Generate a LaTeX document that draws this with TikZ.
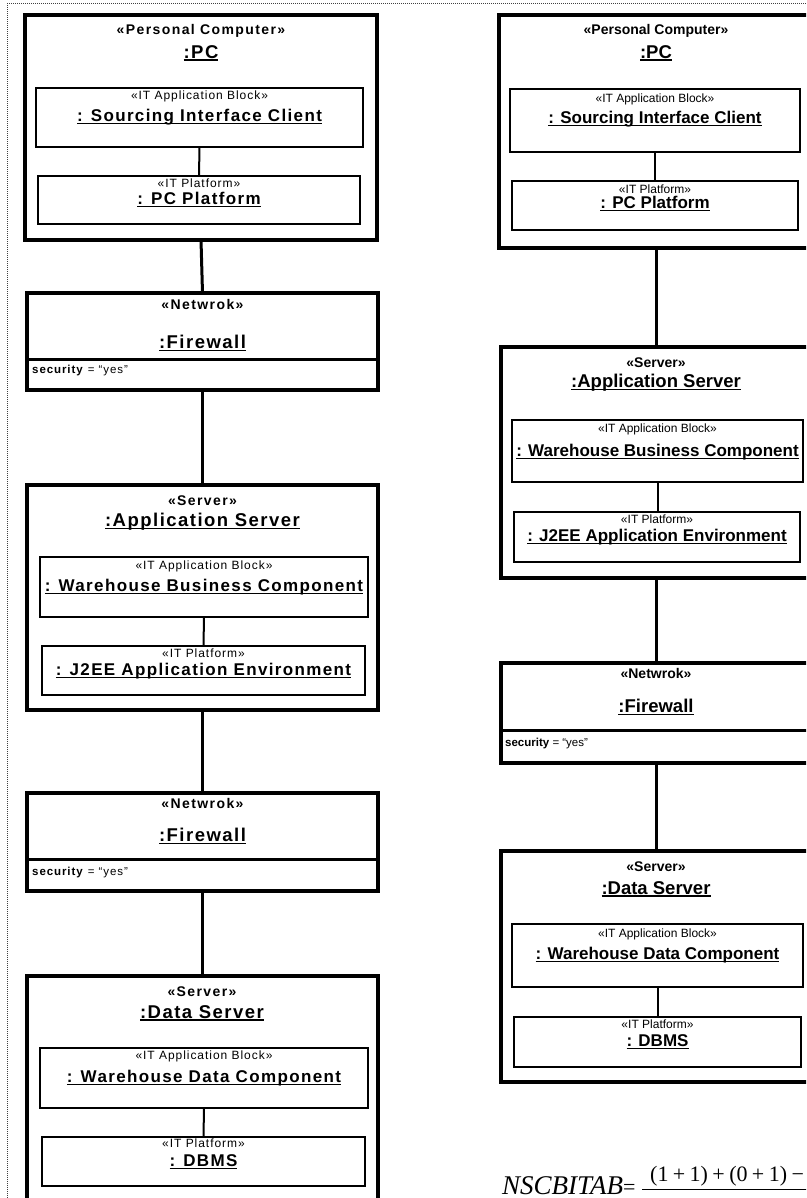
\documentclass[tikz,border=0pt]{standalone}
\usepackage{fontspec}
\setmainfont{Liberation Sans}
\newfontfamily\spacedsans[LetterSpace=8]{Liberation Sans}
\newfontfamily\widesans[LetterSpace=10]{Liberation Sans}
\newfontfamily\timesfont{Liberation Serif}
% underline set at a fixed depth, crossing descenders
\newcommand\undl[1]{\setbox0=\hbox{#1}\rlap{\rule[-2.4pt]{\wd0}{1.2pt}}\box0}
\newcommand\pls{\hspace{0.2em}+\hspace{0.2em}}
\newcommand\colfam{}
\newcommand\stfam{}
\tikzset{
  outerbox/.style={draw, line width=3.2pt, anchor=north west, inner sep=0pt, outer sep=0pt},
  innerbox/.style={draw, line width=2.2pt, anchor=north west, inner sep=0pt, outer sep=0pt},
  link/.style={line width=3pt},
  sublink/.style={line width=2pt},
  divider/.style={line width=3pt},
  nodest/.style={font=\stfam\fontsize{14}{14}\selectfont\bfseries, inner sep=0pt},
  nodename/.style={font=\colfam\fontsize{18.5}{19}\selectfont\bfseries, inner sep=0pt},
  blockst/.style={font=\colfam\fontsize{12}{12}\selectfont, inner sep=0pt},
  blockname/.style={font=\colfam\fontsize{17}{17}\selectfont\bfseries, inner sep=0pt},
  attr/.style={font=\colfam\fontsize{11.5}{12}\selectfont, inner sep=0pt, anchor=west},
  frame/.style={line width=1pt, black!75, dash pattern=on 1pt off 1pt},
}
\begin{document}
\begin{tikzpicture}[x=1pt, y=-1pt]
\useasboundingbox (0,0) rectangle (806,1198);
\clip (0,0) rectangle (806,1198);
\fill[white] (0,0) rectangle (806,1198);

% dotted page frame
\draw[frame] (7,1198) -- (7,4) -- (806,4);

% ---------------- left column (letter-spaced) ----------------
\begin{scope}
\renewcommand\colfam{\spacedsans}
\renewcommand\stfam{\widesans}
% PC
\node[outerbox, minimum width=352, minimum height=225] (pc) at (25,15) {};
\node[nodest] (pc-st) at (201,31) {«Personal Computer»};
\node[nodename] (pc-nm) at (201,53) {\undl{:PC}};
\node[innerbox, minimum width=327, minimum height=59] (sic) at (36,88) {};
\node[blockst] (sic-st) at (sic.center |- 0,96) {«IT Application Block»};
\node[blockname] (sic-nm) at (sic.center |- 0,117) {\undl{: Sourcing Interface Client}};
\node[innerbox, minimum width=322, minimum height=48] (pcp) at (38,176) {};
\node[blockst] (pcp-st) at (pcp.center |- 0,183) {«IT Platform»};
\node[blockname] (pcp-nm) at (pcp.center |- 0,200) {\undl{: PC Platform}};
\draw[sublink] (sic.south) -- (pcp.north);

% Firewall
\node[outerbox, minimum width=351, minimum height=97] (fwa) at (27,293) {};
\node[nodest] (fwa-st) at (fwa.center |- 0,304) {«Netwrok»};
\node[nodename] (fwa-nm) at (fwa.center |- 0,343) {\undl{:Firewall}};
\draw[divider] (fwa.west |- 0,359) -- (fwa.east |- 0,359);
\node[attr] (fwa-at) at (32,371) {\textbf{security} = “yes”};

% Application Server
\node[outerbox, minimum width=351, minimum height=225] (asa) at (27,485) {};
\node[nodest] (asa-st) at (asa.center |- 0,501) {«Server»};
\node[nodename] (asa-nm) at (asa.center |- 0,522) {\undl{:Application Server}};
\node[innerbox, minimum width=328, minimum height=60] (wbca) at (40,557) {};
\node[blockst] (wbca-st) at (wbca.center |- 0,566) {«IT Application Block»};
\node[blockname] (wbca-nm) at (wbca.center |- 0,587) {\undl{: Warehouse Business Component}};
\node[innerbox, minimum width=323, minimum height=49] (j2a) at (42,646) {};
\node[blockst] (j2a-st) at (j2a.center |- 0,653) {«IT Platform»};
\node[blockname] (j2a-nm) at (j2a.center |- 0,671) {\undl{: J2EE Application Environment}};
\draw[sublink] (wbca.south) -- (j2a.north);

% Firewall
\node[outerbox, minimum width=351, minimum height=98] (fwb) at (27,793) {};
\node[nodest] (fwb-st) at (fwb.center |- 0,803) {«Netwrok»};
\node[nodename] (fwb-nm) at (fwb.center |- 0,836) {\undl{:Firewall}};
\draw[divider] (fwb.west |- 0,859) -- (fwb.east |- 0,859);
\node[attr] (fwb-at) at (32,873) {\textbf{security} = “yes”};

% Data Server
\node[outerbox, minimum width=351, minimum height=240] (dsa) at (27,976) {};
\node[nodest] (dsa-st) at (202,992) {«Server»};
\node[nodename] (dsa-nm) at (202,1013) {\undl{:Data Server}};
\node[innerbox, minimum width=328, minimum height=60] (wdca) at (40,1048) {};
\node[blockst] (wdca-st) at (wdca.center |- 0,1056) {«IT Application Block»};
\node[blockname] (wdca-nm) at (wdca.center |- 0,1078) {\undl{: Warehouse Data Component}};
\node[innerbox, minimum width=323, minimum height=49] (dbma) at (42,1137) {};
\node[blockst] (dbma-st) at (dbma.center |- 0,1143) {«IT Platform»};
\node[blockname] (dbma-nm) at (dbma.center |- 0,1162) {\undl{: DBMS}};
\draw[sublink] (wdca.south) -- (dbma.north);

\draw[link] (pc.south) -- (fwa.north);
\draw[link] (fwa.south) -- (asa.north);
\draw[link] (asa.south) -- (fwb.north);
\draw[link] (fwb.south -| dsa.north) -- (dsa.north);
\end{scope}

% ---------------- right column ----------------
\begin{scope}
% PC
\node[outerbox, minimum width=314, minimum height=233] (pcr) at (499,15) {};
\node[nodest] (pcr-st) at (656,31) {«Personal Computer»};
\node[nodename] (pcr-nm) at (656,53) {\undl{:PC}};
\node[innerbox, minimum width=290, minimum height=63] (sicr) at (510,89) {};
\node[blockst] (sicr-st) at (sicr.center |- 0,99) {«IT Application Block»};
\node[blockname] (sicr-nm) at (sicr.center |- 0,119) {\undl{: Sourcing Interface Client}};
\node[innerbox, minimum width=286, minimum height=49] (pcpr) at (512,181) {};
\node[blockst] (pcpr-st) at (pcpr.center |- 0,189) {«IT Platform»};
\node[blockname] (pcpr-nm) at (pcpr.center |- 0,204) {\undl{: PC Platform}};
\draw[sublink] (sicr.south) -- (sicr.south |- pcpr.north);

% Application Server
\node[outerbox, minimum width=312, minimum height=231] (asr) at (501,347) {};
\node[nodest] (asr-st) at (656,363) {«Server»};
\node[nodename] (asr-nm) at (656,383) {\undl{:Application Server}};
\node[innerbox, minimum width=291, minimum height=62] (wbcr) at (512,420) {};
\node[blockst] (wbcr-st) at (wbcr.center |- 0,429) {«IT Application Block»};
\node[blockname] (wbcr-nm) at (wbcr.center |- 0,452) {\undl{: Warehouse Business Component}};
\node[innerbox, minimum width=286, minimum height=50] (j2r) at (514,512) {};
\node[blockst] (j2r-st) at (j2r.center |- 0,519) {«IT Platform»};
\node[blockname] (j2r-nm) at (j2r.center |- 0,537) {\undl{: J2EE Application Environment}};
\draw[sublink] (wbcr.south) -- (wbcr.south |- j2r.north);

% Firewall
\node[outerbox, minimum width=312, minimum height=100] (fwr) at (501,663) {};
\node[nodest] (fwr-st) at (656,673) {«Netwrok»};
\node[nodename] (fwr-nm) at (656,707) {\undl{:Firewall}};
\draw[divider] (fwr.west |- 0,730) -- (fwr.east |- 0,730);
\node[attr] (fwr-at) at (505,744) {\textbf{security} = “yes”};

% Data Server
\node[outerbox, minimum width=312, minimum height=231] (dsr) at (501,851) {};
\node[nodest] (dsr-st) at (656,867) {«Server»};
\node[nodename] (dsr-nm) at (656,889) {\undl{:Data Server}};
\node[innerbox, minimum width=291, minimum height=63] (wdcr) at (512,924) {};
\node[blockst] (wdcr-st) at (wdcr.center |- 0,934) {«IT Application Block»};
\node[blockname] (wdcr-nm) at (wdcr.center |- 0,955) {\undl{: Warehouse Data Component}};
\node[innerbox, minimum width=287, minimum height=50] (dbmr) at (514,1017) {};
\node[blockst] (dbmr-st) at (dbmr.center |- 0,1024) {«IT Platform»};
\node[blockname] (dbmr-nm) at (dbmr.center |- 0,1042) {\undl{: DBMS}};
\draw[sublink] (wdcr.south) -- (wdcr.south |- dbmr.north);

\coordinate (colr) at (656,0);
\draw[link] (colr |- pcr.south) -- (colr |- asr.north);
\draw[link] (colr |- asr.south) -- (colr |- fwr.north);
\draw[link] (colr |- fwr.south) -- (colr |- dsr.north);
\end{scope}

% ---------------- metric formula ----------------
\node[anchor=base west, inner sep=0pt] (lhs) at (502,1194)
  {{\timesfont\itshape\fontsize{27}{27}\selectfont NSCBITAB}{\timesfont\fontsize{22}{22}\selectfont=}};
\node[anchor=base west, inner sep=0pt, font=\timesfont\fontsize{22}{22}\selectfont] (num) at (650,1181)
  {(1\pls 1)\pls(0\pls 1)\hspace{0.2em}−};
\coordinate (barl) at (642,1189);
\coordinate (barr) at (830,1189);
\draw[line width=1pt] (barl) -- (barr);
\end{tikzpicture}
\end{document}
